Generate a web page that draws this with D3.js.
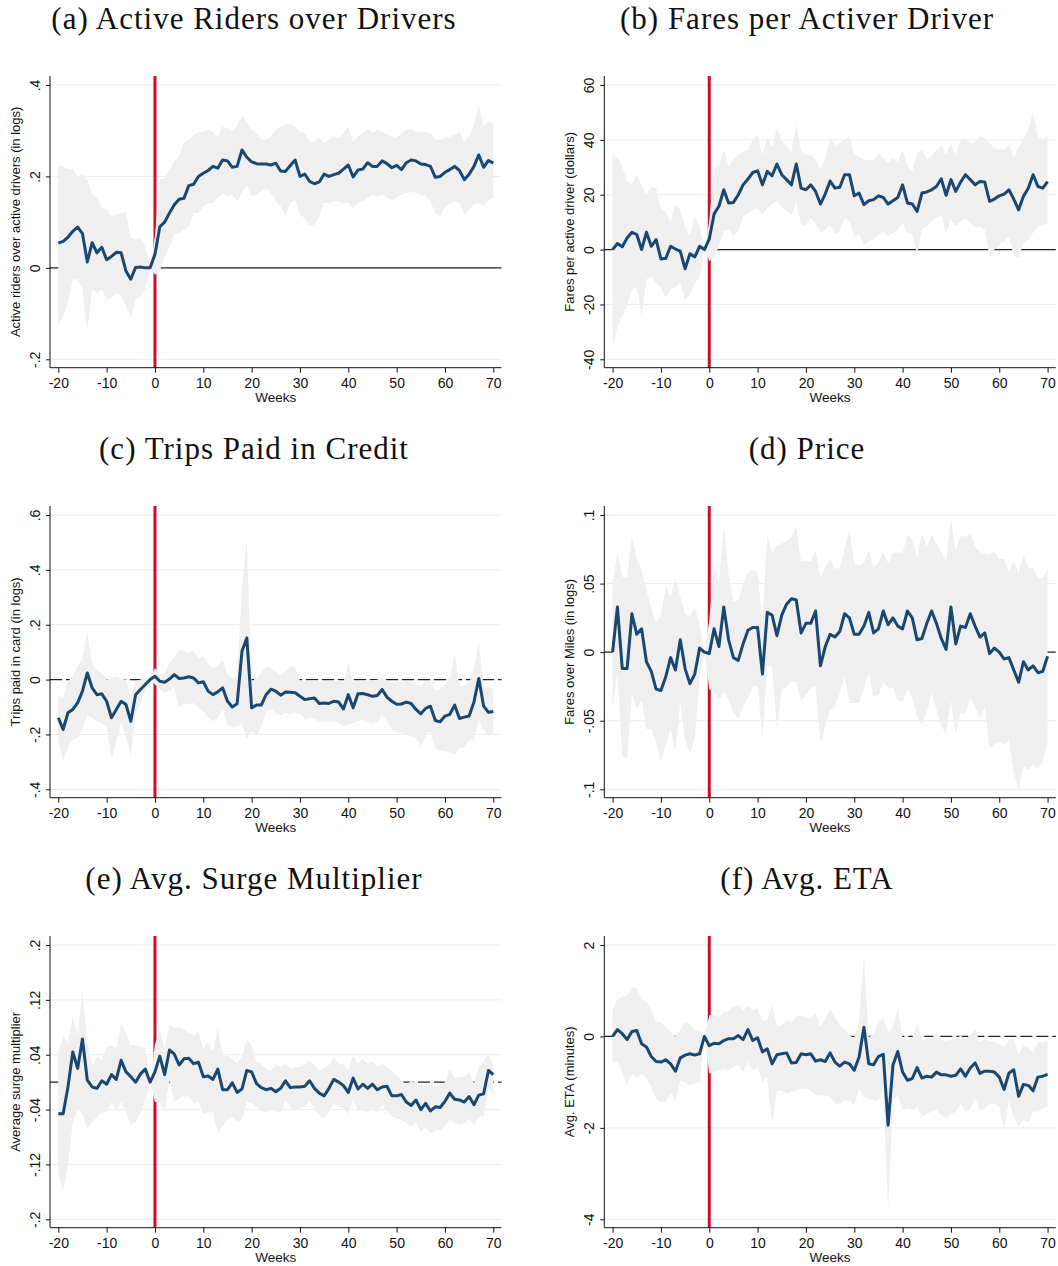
<!DOCTYPE html>
<html>
<head>
<meta charset="utf-8">
<script src="https://cdn.jsdelivr.net/npm/d3@7"></script>
<style>
  body { margin: 0; background: #fff; }
  .title { font-family: 'Liberation Serif', 'Times New Roman', serif; }
  .sans { font-family: 'Liberation Sans', Arial, Helvetica, sans-serif; }
</style>
</head>
<body>
<svg id="chart" width="1058" height="1266"></svg>
<script>
// weeks relative to the event, -20 .. 70
const weeks = d3.range(-20, 71);
const xTicks = [-20, -10, 0, 10, 20, 30, 40, 50, 60, 70];

// (a) active riders over active drivers
const aTicks = [-0.2, 0, 0.2, 0.4];
const aEst = [
  0.054, 0.058, 0.067, 0.080, 0.089, 0.075, 0.013, 0.055, 0.033, 0.045,
  0.018, 0.025, 0.034, 0.033, -0.007, -0.025, 0.001, 0.002, 0.000, 0.000,
  0.030, 0.090, 0.100, 0.120, 0.138, 0.150, 0.152, 0.180, 0.183, 0.200,
  0.207, 0.213, 0.222, 0.218, 0.236, 0.234, 0.220, 0.222, 0.258, 0.242,
  0.232, 0.228, 0.227, 0.227, 0.225, 0.229, 0.212, 0.211, 0.224, 0.236,
  0.200, 0.205, 0.189, 0.184, 0.188, 0.205, 0.200, 0.204, 0.207, 0.216,
  0.225, 0.199, 0.214, 0.216, 0.230, 0.222, 0.222, 0.234, 0.228, 0.219,
  0.224, 0.215, 0.230, 0.236, 0.234, 0.227, 0.226, 0.222, 0.198, 0.200,
  0.209, 0.215, 0.222, 0.213, 0.193, 0.205, 0.222, 0.247, 0.220, 0.235,
  0.229
];
const aHi = [
  0.225, 0.222, 0.216, 0.215, 0.200, 0.204, 0.193, 0.160, 0.153, 0.131,
  0.127, 0.113, 0.116, 0.120, 0.124, 0.065, 0.062, 0.065, 0.047, 0.000,
  0.070, 0.193, 0.196, 0.215, 0.233, 0.244, 0.276, 0.280, 0.290, 0.298,
  0.298, 0.302, 0.298, 0.287, 0.309, 0.305, 0.298, 0.310, 0.335, 0.318,
  0.302, 0.295, 0.280, 0.280, 0.287, 0.302, 0.308, 0.313, 0.316, 0.309,
  0.298, 0.295, 0.276, 0.276, 0.284, 0.273, 0.280, 0.287, 0.284, 0.295,
  0.309, 0.276, 0.287, 0.295, 0.305, 0.295, 0.302, 0.298, 0.291, 0.287,
  0.284, 0.295, 0.302, 0.303, 0.298, 0.298, 0.298, 0.295, 0.280, 0.280,
  0.284, 0.287, 0.291, 0.298, 0.276, 0.287, 0.313, 0.356, 0.309, 0.320,
  0.313
];
const aLo = [
  -0.124, -0.105, -0.076, -0.025, -0.025, -0.047, -0.138, -0.047, -0.055, -0.047,
  -0.069, -0.065, -0.055, -0.062, -0.084, -0.109, -0.069, -0.062, -0.047, 0.000,
  -0.015, -0.007, 0.025, 0.047, 0.073, 0.076, 0.084, 0.091, 0.120, 0.120,
  0.135, 0.142, 0.142, 0.153, 0.164, 0.156, 0.160, 0.145, 0.164, 0.182,
  0.156, 0.160, 0.167, 0.175, 0.164, 0.145, 0.135, 0.113, 0.142, 0.149,
  0.116, 0.109, 0.091, 0.095, 0.113, 0.142, 0.142, 0.145, 0.145, 0.142,
  0.142, 0.131, 0.142, 0.145, 0.153, 0.160, 0.156, 0.160, 0.153, 0.149,
  0.153, 0.160, 0.164, 0.167, 0.164, 0.160, 0.158, 0.145, 0.120, 0.113,
  0.135, 0.142, 0.145, 0.142, 0.116, 0.127, 0.138, 0.142, 0.135, 0.149,
  0.153
];

// (b) fares per active driver
const bTicks = [-40, -20, 0, 20, 40, 60];
const bEst = [
  0, 2.2, 1, 4.2, 6.3, 5.5, 0, 6.3, 1.2, 3.6,
  -3.4, -3.2, 1.2, 0.2, -0.6, -7, -1.5, -2.7, 1.2, 0,
  3.9, 13, 15.8, 21.8, 17, 17.2, 20, 23.6, 25.7, 28.1,
  28.7, 23.6, 28.5, 26.9, 31.2, 27.3, 25.5, 23.6, 31.2, 22.4,
  21.8, 23.6, 21.2, 16.6, 20.3, 25, 22.4, 22.7, 27.3, 27.3,
  19.6, 20.6, 16.4, 17.8, 18.2, 19.6, 19, 16.6, 17.8, 19,
  23.6, 17, 16.6, 13.9, 20.6, 21, 21.8, 23, 25.8, 19.8,
  25.5, 21.2, 24.6, 27.3, 25.5, 23.6, 24.8, 24.6, 17.6, 18.4,
  19.6, 20.2, 21.8, 18.4, 14.5, 19.4, 22.4, 27.3, 23, 22.4,
  24.8
];
const bHi = [
  34.5, 33.3, 30.3, 24.8, 23.6, 27.3, 23.6, 20, 23, 22.4,
  14.5, 13.9, 9.7, 16.4, 14.5, 8.5, 4.8, 12.1, 8.5, 0,
  10.3, 29.7, 31, 36.4, 30.3, 32.7, 34.5, 35.8, 36.4, 40,
  41.8, 34.5, 41.2, 37, 44.2, 39.4, 37.6, 35.8, 45.5, 35.8,
  34.5, 34.5, 32.7, 29.1, 33.3, 40.6, 38, 38.8, 40, 41.5,
  34.5, 33.9, 32.7, 32.7, 32.7, 35.2, 33.3, 31.5, 33.3, 32.1,
  36.4, 30.3, 28.5, 35.2, 36.4, 32.9, 33.9, 36.4, 38.2, 34.5,
  39, 33.9, 40, 40.6, 38.8, 39.4, 41.2, 40.6, 38.8, 37,
  36.4, 36.6, 38.2, 33.3, 37.6, 40.2, 43.6, 50.3, 41.2, 40,
  41.2
];
const bLo = [
  -35.8, -27.9, -24.2, -20.6, -14.5, -13.9, -24.2, -10.9, -9.7, -12.1,
  -13.9, -17.6, -14.5, -13.9, -12.1, -18.8, -16.4, -12.1, -10.3, 0,
  -4.2, -3, 1.2, 6.7, 7.3, 5.2, 6.7, 12.1, 13.3, 14.5,
  15.2, 12.7, 15.2, 16.4, 17.6, 15.8, 13.9, 12.7, 17, 9.1,
  8.5, 11.5, 9.7, 6.1, 7.3, 9.1, 5.5, 6.7, 11.5, 10.3,
  4.8, 5.5, 1.8, 3, 3.9, 5.5, 6.7, 4.8, 6.1, 7.3,
  9.7, 6.1, 5.5, -1.8, 7.3, 8.5, 10.3, 11.5, 12.7, 6.1,
  10.9, 8.5, 10.3, 11.5, 9.7, 7.9, 8.5, 7.3, -3, 0,
  1.8, 3, 4.8, -2.4, -3, 2.4, 3.6, 6.1, 8.5, 9.1,
  9.7
];

// (c) trips paid in card
const cTicks = [-0.4, -0.2, 0, 0.2, 0.4, 0.6];
const cEst = [
  -0.139, -0.182, -0.121, -0.109, -0.085, -0.042, 0.024, -0.030, -0.055, -0.052,
  -0.079, -0.139, -0.109, -0.079, -0.091, -0.152, -0.055, -0.036, -0.018, 0.000,
  0.012, -0.006, -0.010, 0.002, 0.018, 0.004, 0.006, 0.010, 0.006, -0.012,
  -0.008, -0.042, -0.055, -0.045, -0.030, -0.079, -0.100, -0.088, 0.103, 0.152,
  -0.103, -0.093, -0.093, -0.055, -0.035, -0.042, -0.057, -0.045, -0.046, -0.048,
  -0.061, -0.073, -0.070, -0.067, -0.087, -0.085, -0.087, -0.079, -0.082, -0.107,
  -0.055, -0.103, -0.052, -0.051, -0.055, -0.061, -0.058, -0.036, -0.064, -0.079,
  -0.090, -0.089, -0.082, -0.087, -0.109, -0.125, -0.105, -0.097, -0.149, -0.154,
  -0.133, -0.127, -0.093, -0.142, -0.137, -0.133, -0.082, 0.004, -0.097, -0.119,
  -0.116
];
const cHi = [
  -0.055, -0.067, -0.006, 0.012, 0.048, 0.073, 0.176, 0.055, 0.036, 0.024,
  0.000, 0.006, 0.010, 0.003, 0.000, -0.060, -0.006, 0.000, 0.006, 0.000,
  0.042, 0.018, 0.024, 0.060, 0.079, 0.109, 0.103, 0.097, 0.103, 0.079,
  0.085, 0.055, 0.042, 0.048, 0.073, 0.018, 0.006, 0.012, 0.333, 0.511,
  -0.006, 0.000, 0.024, 0.048, 0.042, 0.030, 0.012, 0.030, 0.048, 0.048,
  -0.004, -0.006, -0.003, -0.002, -0.005, -0.006, -0.004, -0.005, -0.002, -0.010,
  0.061, -0.010, -0.004, -0.003, -0.003, -0.002, -0.001, 0.010, -0.004, -0.010,
  -0.010, -0.012, -0.006, -0.006, -0.018, -0.024, -0.006, -0.012, -0.042, -0.036,
  -0.018, 0.000, 0.097, -0.024, -0.024, -0.012, 0.036, 0.133, -0.024, -0.030,
  -0.034
];
const cLo = [
  -0.218, -0.297, -0.248, -0.218, -0.212, -0.182, -0.127, -0.139, -0.152, -0.158,
  -0.170, -0.291, -0.224, -0.158, -0.206, -0.279, -0.121, -0.085, -0.042, 0.000,
  -0.018, -0.036, -0.048, -0.042, -0.030, -0.103, -0.085, -0.091, -0.085, -0.103,
  -0.115, -0.139, -0.152, -0.139, -0.109, -0.164, -0.176, -0.170, -0.158, -0.216,
  -0.188, -0.206, -0.170, -0.121, -0.109, -0.121, -0.131, -0.121, -0.127, -0.121,
  -0.127, -0.145, -0.139, -0.145, -0.152, -0.154, -0.155, -0.152, -0.158, -0.170,
  -0.164, -0.158, -0.152, -0.145, -0.152, -0.158, -0.155, -0.127, -0.152, -0.182,
  -0.194, -0.194, -0.200, -0.206, -0.212, -0.242, -0.206, -0.188, -0.248, -0.260,
  -0.260, -0.267, -0.273, -0.248, -0.248, -0.218, -0.218, -0.145, -0.182, -0.206,
  -0.200
];

// (d) fares over miles
const dTicks = [-0.1, -0.05, 0, 0.05, 0.1];
const dEst = [
  0.000, 0.033, -0.012, -0.012, 0.028, 0.013, 0.017, -0.007, -0.014, -0.027,
  -0.028, -0.018, -0.004, -0.013, 0.009, -0.012, -0.023, -0.016, 0.003, 0.000,
  -0.001, 0.017, 0.004, 0.033, 0.009, -0.004, -0.006, 0.006, 0.016, 0.018,
  0.018, -0.016, 0.029, 0.027, 0.012, 0.027, 0.035, 0.039, 0.038, 0.014,
  0.021, 0.021, 0.030, -0.010, 0.004, 0.013, 0.011, 0.015, 0.028, 0.025,
  0.013, 0.013, 0.019, 0.029, 0.014, 0.017, 0.030, 0.020, 0.025, 0.019,
  0.017, 0.030, 0.025, 0.009, 0.010, 0.021, 0.030, 0.021, 0.010, 0.002,
  0.033, 0.006, 0.019, 0.018, 0.028, 0.019, 0.011, 0.014, -0.001, 0.003,
  0.000, -0.005, -0.004, -0.013, -0.022, -0.007, -0.013, -0.010, -0.015, -0.014,
  -0.003
];
const dHi = [
  0.049, 0.073, 0.055, 0.054, 0.085, 0.067, 0.060, 0.045, 0.032, 0.022,
  0.026, 0.049, 0.040, 0.054, 0.040, 0.028, 0.026, 0.032, 0.020, 0.000,
  0.023, 0.064, 0.050, 0.092, 0.056, 0.037, 0.038, 0.049, 0.058, 0.060,
  0.058, 0.021, 0.086, 0.072, 0.078, 0.079, 0.081, 0.084, 0.091, 0.066,
  0.067, 0.066, 0.074, 0.054, 0.062, 0.068, 0.061, 0.061, 0.075, 0.089,
  0.064, 0.063, 0.065, 0.074, 0.062, 0.065, 0.073, 0.065, 0.072, 0.073,
  0.072, 0.086, 0.081, 0.069, 0.086, 0.077, 0.085, 0.080, 0.073, 0.066,
  0.097, 0.074, 0.085, 0.084, 0.087, 0.077, 0.073, 0.072, 0.071, 0.073,
  0.068, 0.068, 0.058, 0.066, 0.057, 0.071, 0.061, 0.062, 0.054, 0.054,
  0.061
];
const dLo = [
  -0.041, -0.015, -0.076, -0.077, -0.030, -0.041, -0.035, -0.056, -0.056, -0.066,
  -0.080, -0.068, -0.056, -0.073, -0.037, -0.064, -0.074, -0.062, -0.018, 0.000,
  -0.027, -0.029, -0.035, -0.028, -0.035, -0.044, -0.049, -0.039, -0.033, -0.025,
  -0.024, -0.062, -0.010, -0.011, -0.056, -0.027, -0.025, -0.021, -0.022, -0.036,
  -0.031, -0.026, -0.025, -0.067, -0.054, -0.042, -0.040, -0.030, -0.018, -0.037,
  -0.037, -0.037, -0.026, -0.016, -0.032, -0.031, -0.022, -0.026, -0.026, -0.035,
  -0.036, -0.027, -0.033, -0.047, -0.053, -0.044, -0.030, -0.042, -0.054, -0.059,
  -0.035, -0.060, -0.044, -0.045, -0.033, -0.040, -0.048, -0.040, -0.070, -0.067,
  -0.065, -0.067, -0.064, -0.088, -0.100, -0.083, -0.086, -0.082, -0.085, -0.080,
  -0.066
];

// (e) average surge multiplier
const eTicks = [-0.2, -0.12, -0.04, 0.04, 0.12, 0.2];
const eEst = [
  -0.046, -0.046, -0.007, 0.044, 0.020, 0.063, 0.003, -0.007, -0.009, 0.002,
  -0.003, 0.011, 0.004, 0.032, 0.015, 0.008, 0.000, 0.012, 0.019, 0.000,
  0.015, 0.038, 0.011, 0.047, 0.041, 0.025, 0.034, 0.035, 0.027, 0.029,
  0.008, 0.009, 0.004, 0.019, -0.011, -0.011, -0.001, -0.015, -0.010, 0.017,
  0.015, -0.002, -0.008, -0.011, -0.009, -0.014, -0.009, 0.002, -0.008, -0.007,
  -0.007, -0.006, 0.002, -0.009, -0.016, -0.020, -0.009, 0.004, 0.000, -0.005,
  -0.015, 0.006, -0.010, -0.003, -0.009, -0.003, -0.011, -0.007, -0.006, -0.020,
  -0.020, -0.018, -0.029, -0.034, -0.026, -0.040, -0.031, -0.042, -0.036, -0.037,
  -0.028, -0.016, -0.025, -0.026, -0.029, -0.021, -0.033, -0.019, -0.017, 0.017,
  0.011
];
const eHi = [
  0.042, 0.067, 0.058, 0.096, 0.068, 0.134, 0.058, 0.025, 0.037, 0.032,
  0.051, 0.054, 0.049, 0.085, 0.071, 0.054, 0.054, 0.051, 0.051, 0.000,
  0.055, 0.076, 0.049, 0.083, 0.080, 0.080, 0.076, 0.071, 0.068, 0.073,
  0.049, 0.058, 0.044, 0.080, 0.039, 0.039, 0.034, 0.027, 0.039, 0.061,
  0.054, 0.030, 0.027, 0.020, 0.017, 0.025, 0.022, 0.027, 0.020, 0.022,
  0.022, 0.025, 0.032, 0.025, 0.017, 0.020, 0.025, 0.037, 0.027, 0.027,
  0.017, 0.039, 0.027, 0.034, 0.027, 0.030, 0.022, 0.027, 0.022, 0.015,
  0.010, 0.003, -0.004, 0.002, -0.002, -0.004, -0.003, -0.004, -0.006, -0.004,
  0.000, 0.020, 0.005, 0.008, 0.008, 0.015, -0.002, 0.022, 0.030, 0.042,
  0.025
];
const eLo = [
  -0.133, -0.160, -0.121, -0.058, -0.041, -0.046, -0.068, -0.058, -0.051, -0.044,
  -0.044, -0.029, -0.041, -0.029, -0.044, -0.063, -0.058, -0.044, -0.026, 0.000,
  -0.029, -0.029, -0.041, 0.003, -0.029, -0.024, -0.019, -0.021, -0.031, -0.029,
  -0.046, -0.044, -0.044, -0.075, -0.065, -0.055, -0.050, -0.058, -0.055, -0.029,
  -0.031, -0.036, -0.041, -0.044, -0.041, -0.043, -0.043, -0.026, -0.036, -0.041,
  -0.038, -0.036, -0.026, -0.041, -0.048, -0.053, -0.043, -0.031, -0.036, -0.038,
  -0.046, -0.024, -0.041, -0.041, -0.043, -0.041, -0.043, -0.033, -0.041, -0.050,
  -0.053, -0.055, -0.060, -0.065, -0.058, -0.072, -0.067, -0.075, -0.070, -0.070,
  -0.065, -0.055, -0.060, -0.062, -0.060, -0.053, -0.063, -0.050, -0.050, -0.007,
  -0.019
];

// (f) average ETA
const fTicks = [-4, -2, 0, 2];
const fEst = [
  0.00, 0.15, 0.06, -0.07, 0.11, 0.13, -0.16, -0.23, -0.44, -0.55,
  -0.56, -0.51, -0.60, -0.76, -0.47, -0.41, -0.38, -0.41, -0.38, 0.00,
  -0.20, -0.15, -0.16, -0.09, -0.05, -0.05, 0.02, -0.07, 0.15, -0.09,
  -0.03, -0.34, -0.27, -0.60, -0.40, -0.38, -0.36, -0.58, -0.57, -0.38,
  -0.40, -0.38, -0.54, -0.51, -0.55, -0.36, -0.56, -0.65, -0.56, -0.60,
  -0.74, -0.45, 0.20, -0.60, -0.62, -0.44, -0.39, -1.94, -0.63, -0.33,
  -0.78, -0.96, -0.92, -0.68, -0.91, -0.87, -0.89, -0.78, -0.84, -0.84,
  -0.87, -0.85, -0.71, -0.87, -0.69, -0.58, -0.81, -0.76, -0.76, -0.78,
  -0.89, -1.16, -0.80, -0.73, -1.31, -1.05, -1.07, -1.19, -0.89, -0.87,
  -0.83
];
const fHi = [
  0.57, 0.82, 0.86, 0.89, 1.08, 1.06, 0.80, 0.75, 0.57, 0.33,
  0.31, 0.20, 0.09, 0.00, 0.13, 0.33, 0.28, 0.13, 0.13, 0.00,
  0.46, 0.49, 0.42, 0.53, 0.57, 0.64, 0.68, 0.57, 0.68, 0.58,
  0.60, 0.35, 0.35, 0.68, 0.20, 0.24, 0.35, 0.31, 0.44, 0.46,
  0.39, 0.39, 0.49, 0.20, 0.39, 0.60, 0.42, 0.24, 0.17, 0.02,
  -0.03, 0.35, 1.77, -0.02, 0.05, 0.35, 0.39, 0.09, 0.20, 0.64,
  -0.04, -0.08, -0.03, 0.28, -0.08, -0.04, -0.05, 0.10, -0.06, -0.10,
  -0.07, -0.05, 0.02, -0.06, 0.03, 0.17, -0.12, -0.06, -0.10, -0.12,
  -0.16, -0.23, -0.09, -0.05, -0.41, -0.20, -0.23, -0.38, -0.12, -0.14,
  -0.10
];
const fLo = [
  -0.56, -0.56, -0.78, -1.07, -0.81, -0.92, -0.81, -0.92, -1.10, -1.36,
  -1.43, -1.43, -1.21, -1.43, -0.96, -1.00, -1.07, -1.03, -1.00, 0.00,
  -0.81, -0.78, -0.74, -0.71, -0.74, -0.67, -0.63, -0.78, -0.56, -0.74,
  -0.67, -1.00, -0.89, -1.91, -1.18, -1.18, -1.25, -1.21, -1.18, -1.14,
  -1.14, -1.18, -1.29, -1.29, -1.29, -1.32, -1.47, -1.47, -1.40, -1.40,
  -1.51, -1.14, -1.32, -1.36, -1.40, -1.40, -1.18, -3.80, -1.40, -1.29,
  -1.61, -1.58, -1.61, -1.54, -1.76, -1.69, -1.65, -1.61, -1.72, -1.80,
  -1.69, -1.65, -1.47, -1.65, -1.58, -1.36, -1.61, -1.58, -1.47, -1.47,
  -1.54, -2.05, -1.40, -1.76, -1.98, -1.83, -1.87, -1.65, -1.65, -1.58,
  -1.54
];

const panels = [
  { title: '(a) Active Riders over Drivers', ylab: 'Active riders over active drivers (in logs)',
    ticks: aTicks, est: aEst, hi: aHi, lo: aLo, col: 0, row: 0, dashed: false },
  { title: '(b) Fares per Activer Driver', ylab: 'Fares per active driver (dollars)',
    ticks: bTicks, est: bEst, hi: bHi, lo: bLo, col: 1, row: 0, dashed: false },
  { title: '(c) Trips Paid in Credit', ylab: 'Trips paid in card (in logs)',
    ticks: cTicks, est: cEst, hi: cHi, lo: cLo, col: 0, row: 1, dashed: true },
  { title: '(d) Price', ylab: 'Fares over Miles (in logs)',
    ticks: dTicks, est: dEst, hi: dHi, lo: dLo, col: 1, row: 1, dashed: false },
  { title: '(e) Avg. Surge Multiplier', ylab: 'Average surge multiplier',
    ticks: eTicks, est: eEst, hi: eHi, lo: eLo, col: 0, row: 2, dashed: true },
  { title: '(f) Avg. ETA', ylab: 'Avg. ETA (minutes)',
    ticks: fTicks, est: fEst, hi: fHi, lo: fLo, col: 1, row: 2, dashed: true }
];

// layout
const colX = [50, 604.3];
const titleX = [254, 807];
const rowY = [76, 506, 936];
const plotW = 451.5;
const plotH = 291.7;

const lineColor = '#1a476f';
const bandColor = '#efefef';
const eventColor = '#c8102e';

// stata style numbers: .4, -.2 (plain hyphen)
const fmt = v => String(+v.toFixed(4)).replace(/^(-?)0\./, '$1.');

const svg = d3.select('#chart');

function drawPanel(p) {
  const x0 = colX[p.col];
  const y0 = rowY[p.row];
  const x = d3.scaleLinear().domain([-20, 70]).range([x0 + 8.3, x0 + 443.3]);
  const y = d3.scaleLinear().domain(d3.extent(p.ticks)).range([y0 + 283.3, y0 + 9]);
  const g = svg.append('g');

  // gridlines
  g.append('g').selectAll('line').data(p.ticks).join('line')
    .attr('x1', x0).attr('x2', x0 + plotW)
    .attr('y1', d => y(d)).attr('y2', d => y(d))
    .attr('stroke', '#e8eff1').attr('stroke-width', 1);

  // zero reference line
  g.append('line')
    .attr('x1', x0).attr('x2', x0 + plotW)
    .attr('y1', y(0)).attr('y2', y(0))
    .attr('stroke', '#222').attr('stroke-width', 1.3)
    .attr('stroke-dasharray', p.dashed ? '12,4' : null);

  // event week
  g.append('line')
    .attr('x1', x(0)).attr('x2', x(0))
    .attr('y1', y0).attr('y2', y0 + plotH)
    .attr('stroke', eventColor).attr('stroke-width', 3);

  const rows = weeks.map((w, i) => ({ w, est: p.est[i], lo: p.lo[i], hi: p.hi[i] }));

  g.append('path').datum(rows)
    .attr('d', d3.area().x(d => x(d.w)).y0(d => y(d.lo)).y1(d => y(d.hi)))
    .attr('fill', bandColor);

  g.append('path').datum(rows)
    .attr('d', d3.line().x(d => x(d.w)).y(d => y(d.est)))
    .attr('fill', 'none')
    .attr('stroke', lineColor).attr('stroke-width', 3)
    .attr('stroke-linejoin', 'round');

  // x axis
  const xa = g.append('g')
    .attr('class', 'sans')
    .attr('transform', `translate(0, ${y0 + plotH})`)
    .call(d3.axisBottom(x).tickValues(xTicks).tickFormat(fmt)
      .tickSize(5).tickSizeOuter(0).tickPadding(5));
  xa.select('.domain').remove();
  xa.attr('font-size', 14).attr('font-family', null);
  xa.selectAll('line').attr('stroke', '#111');
  xa.selectAll('text').attr('fill', '#111');
  xa.append('line').attr('x1', x0).attr('x2', x0 + plotW).attr('stroke', '#111');

  // y axis with rotated labels
  const ya = g.append('g')
    .attr('class', 'sans')
    .attr('transform', `translate(${x0}, 0)`)
    .call(d3.axisLeft(y).tickValues(p.ticks).tickFormat(fmt).tickSize(4).tickSizeOuter(0));
  ya.select('.domain').remove();
  ya.attr('font-size', 14).attr('font-family', null);
  ya.selectAll('line').attr('stroke', '#111');
  ya.selectAll('text')
    .attr('x', null).attr('dy', null)
    .attr('text-anchor', 'middle')
    .attr('transform', 'translate(-10, 0) rotate(-90)')
    .attr('fill', '#111');
  ya.append('line').attr('y1', y0).attr('y2', y0 + plotH).attr('stroke', '#111');

  // axis titles
  g.append('text')
    .attr('class', 'sans')
    .attr('transform', `translate(${x0 - 30.5}, ${y0 + plotH / 2}) rotate(-90)`)
    .attr('text-anchor', 'middle')
    .attr('font-size', 13)
    .attr('fill', '#111')
    .text(p.ylab);

  g.append('text')
    .attr('class', 'sans')
    .attr('x', x0 + plotW / 2)
    .attr('y', y0 + plotH + 33.8)
    .attr('text-anchor', 'middle')
    .attr('font-size', 13.5)
    .attr('fill', '#111')
    .text('Weeks');

  // panel title
  g.append('text')
    .attr('class', 'title')
    .attr('x', titleX[p.col])
    .attr('y', y0 - 47)
    .attr('text-anchor', 'middle')
    .attr('font-size', 31)
    .attr('letter-spacing', 1)
    .attr('fill', '#111')
    .text(p.title);
}

panels.forEach(drawPanel);
</script>
</body>
</html>
